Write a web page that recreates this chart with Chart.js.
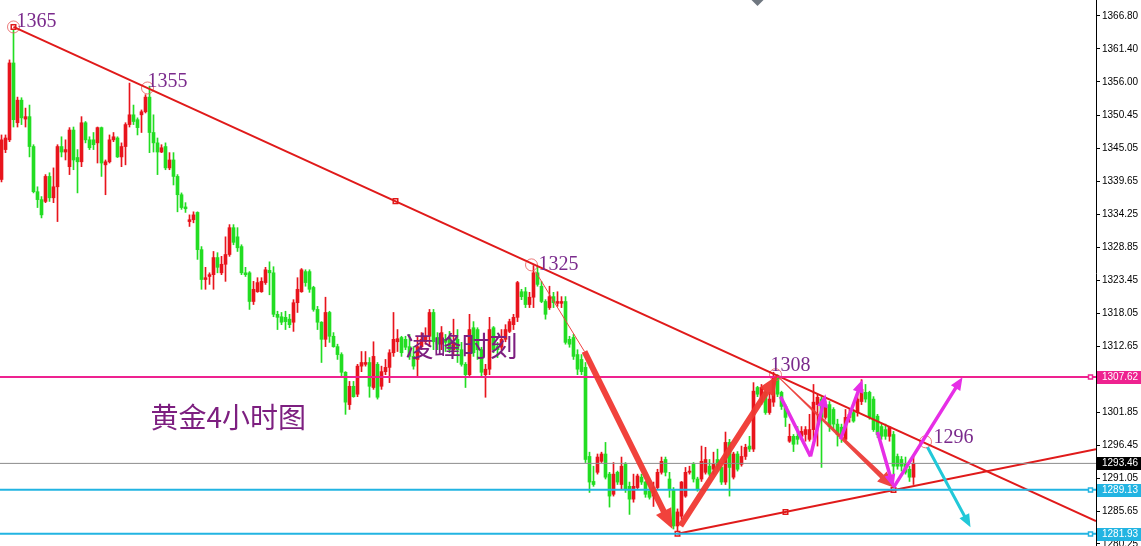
<!DOCTYPE html>
<html>
<head>
<meta charset="utf-8">
<title>黄金4小时图</title>
<script src="https://cdn.jsdelivr.net/npm/chart.js@4.4.1/dist/chart.umd.min.js"></script>
<style>
  html, body { margin: 0; padding: 0; background: #fff; overflow: hidden; }
  canvas { display: block; }
</style>
</head>
<body>
<canvas id="gold" width="1141" height="546"></canvas>
<script>
// 4h gold candles (one per bar, left to right)
const opens = [
  1340.0,1344.9,1346.5,1359.1,1349.3,1353.0,1349.9,1350.3,1345.4,1338.0,
  1336.7,1336.4,1340.5,1337.0,1338.8,1345.4,1344.5,1342.1,1348.1,1343.6,
  1342.9,1349.3,1346.5,1346.5,1346.0,1348.5,1342.4,1342.9,1346.5,1346.8,
  1343.7,1345.4,1349.0,1350.6,1349.8,1350.6,1351.1,1353.5,1347.7,1346.0,
  1344.5,1345.4,1341.9,1343.2,1340.5,1337.5,1335.5,1333.1,1333.4,1334.6,
  1328.5,1323.6,1324.1,1324.4,1327.2,1324.7,1326.1,1327.7,1332.1,1330.6,
  1329.0,1324.7,1324.7,1320.0,1321.6,1321.6,1323.1,1325.1,1324.7,1317.9,
  1317.5,1317.4,1317.1,1316.6,1319.8,1321.6,1324.9,1324.9,1322.3,1318.7,
  1316.6,1313.8,1318.2,1314.3,1312.6,1311.3,1308.4,1303.1,1306.1,1304.8,
  1309.4,1309.7,1310.0,1305.9,1309.7,1306.1,1308.5,1309.2,1311.6,1313.4,
  1314.1,1313.8,1312.6,1311.0,1310.5,1312.6,1313.4,1314.3,1318.2,1314.1,
  1313.0,1313.8,1314.1,1312.1,1313.8,1312.1,1309.7,1308.0,1315.7,1315.4,
  1312.1,1308.0,1308.9,1315.7,1312.6,1312.5,1313.8,1315.1,1316.2,1317.4,
  1321.6,1321.6,1319.5,1320.7,1324.7,1322.5,1320.0,1319.0,1320.8,1319.7,
  1319.7,1320.0,1313.8,1314.1,1311.3,1310.5,1309.2,1294.6,1290.5,1292.0,
  1293.8,1295.0,1291.7,1288.4,1292.0,1290.0,1293.3,1289.7,1287.6,1289.5,
  1291.2,1290.4,1288.9,1288.1,1289.5,1292.0,1294.1,1290.9,1289.2,1283.2,
  1284.8,1288.1,1292.0,1293.3,1290.9,1290.9,1292.0,1293.0,1292.5,1294.1,
  1292.8,1290.4,1296.9,1291.2,1295.0,1293.3,1294.6,1296.3,1295.8,1305.9,
  1303.5,1305.1,1301.8,1303.5,1307.6,1305.1,1302.8,1297.1,1297.9,1297.9,
  1297.9,1298.2,1297.4,1299.0,1303.1,1304.0,1301.0,1303.1,1302.3,1299.9,
  1299.4,1297.4,1301.0,1301.8,1301.8,1303.6,1305.1,1305.1,1304.0,1301.2,
  1299.5,1299.0,1297.9,1298.2,1294.6,1294.1,1293.3,1292.5,1291.2
];
const highs = [
  1347.3,1347.3,1359.6,1365.3,1353.5,1353.4,1351.7,1352.2,1345.7,1338.8,
  1337.2,1340.8,1341.1,1341.9,1345.7,1347.0,1346.5,1348.5,1348.6,1344.9,
  1350.3,1349.5,1347.0,1347.7,1348.6,1348.6,1343.2,1347.3,1347.7,1347.0,
  1346.0,1349.3,1355.8,1352.2,1350.1,1351.4,1353.9,1355.3,1350.6,1346.8,
  1345.7,1346.0,1344.4,1344.4,1340.8,1337.8,1336.2,1334.2,1334.7,1334.7,
  1329.0,1325.6,1324.7,1328.2,1328.0,1327.4,1330.6,1332.6,1332.6,1332.1,
  1329.3,1325.6,1324.9,1323.3,1323.9,1323.9,1325.6,1326.5,1325.7,1318.4,
  1318.2,1318.4,1317.9,1320.3,1323.9,1325.4,1325.2,1325.2,1322.5,1319.2,
  1316.7,1320.7,1318.4,1314.9,1313.0,1311.6,1308.5,1306.9,1306.9,1309.7,
  1311.8,1311.8,1310.8,1313.4,1310.0,1309.4,1310.5,1312.1,1318.2,1315.4,
  1314.3,1314.3,1314.6,1312.6,1314.3,1314.9,1315.7,1318.7,1318.7,1314.9,
  1315.9,1314.6,1315.1,1317.1,1315.4,1313.3,1310.0,1317.9,1316.7,1315.7,
  1312.5,1309.7,1317.4,1315.9,1313.3,1315.4,1316.2,1317.1,1317.9,1323.3,
  1322.0,1322.3,1321.5,1325.9,1325.7,1323.3,1320.3,1322.5,1321.5,1321.6,
  1320.8,1320.8,1314.3,1314.6,1312.1,1311.3,1310.0,1295.3,1293.0,1295.0,
  1295.3,1296.9,1292.0,1293.6,1292.2,1294.5,1293.6,1290.4,1291.7,1291.7,
  1291.7,1290.5,1289.5,1290.4,1292.5,1294.5,1294.5,1292.0,1289.5,1286.0,
  1290.5,1292.8,1293.0,1293.6,1291.2,1296.3,1296.1,1294.1,1295.3,1295.8,
  1293.0,1298.6,1297.4,1295.3,1295.4,1296.3,1296.6,1297.9,1306.7,1306.1,
  1306.4,1305.3,1305.1,1308.4,1308.0,1305.3,1303.1,1299.9,1298.2,1299.5,
  1299.5,1299.5,1301.5,1306.4,1304.8,1304.4,1303.6,1303.6,1302.6,1300.7,
  1299.9,1302.3,1302.3,1302.3,1304.8,1307.2,1306.4,1305.3,1304.4,1301.5,
  1299.9,1299.9,1299.5,1298.7,1295.0,1294.6,1294.5,1293.0,1294.6
];
const lows = [
  1339.6,1344.4,1346.2,1348.6,1348.6,1349.0,1348.6,1343.7,1337.8,1335.4,
  1333.7,1336.2,1336.4,1336.2,1333.1,1343.7,1343.2,1340.8,1341.6,1337.8,
  1342.1,1346.0,1344.9,1344.9,1342.7,1340.5,1337.5,1342.7,1346.2,1343.6,
  1342.1,1342.4,1348.6,1349.0,1347.3,1347.7,1350.9,1344.4,1344.5,1340.8,
  1344.4,1341.6,1341.6,1339.1,1334.7,1335.1,1334.6,1332.3,1332.9,1326.9,
  1322.0,1322.0,1322.8,1322.0,1324.7,1324.4,1323.3,1327.4,1329.3,1328.2,
  1324.4,1324.1,1318.7,1319.5,1321.5,1321.5,1322.8,1321.1,1317.5,1315.4,
  1316.2,1315.4,1315.7,1315.1,1318.2,1321.5,1322.5,1321.5,1318.4,1315.4,
  1310.0,1312.6,1313.3,1312.5,1310.5,1307.7,1301.5,1302.3,1304.3,1304.4,
  1308.5,1309.4,1304.3,1305.6,1304.0,1305.6,1308.0,1306.7,1311.0,1311.8,
  1311.0,1312.1,1310.5,1308.9,1307.7,1312.1,1313.0,1312.6,1312.1,1312.1,
  1312.1,1311.8,1311.6,1311.3,1310.0,1309.4,1305.9,1307.7,1311.0,1310.5,
  1307.7,1304.3,1308.0,1311.6,1310.8,1312.1,1313.4,1314.9,1315.4,1316.7,
  1320.3,1319.0,1319.0,1319.0,1322.5,1319.8,1317.1,1318.7,1319.0,1319.2,
  1319.0,1313.0,1312.5,1310.5,1308.0,1308.0,1293.6,1288.7,1289.7,1291.7,
  1293.6,1290.9,1286.3,1288.1,1290.0,1289.2,1288.7,1285.1,1287.1,1289.2,
  1290.0,1287.9,1287.6,1286.4,1289.2,1291.7,1291.4,1287.9,1282.7,1281.93,
  1284.3,1287.9,1291.7,1290.4,1288.9,1290.5,1291.7,1291.4,1291.7,1292.5,
  1290.0,1290.0,1288.1,1290.9,1292.2,1293.0,1294.1,1295.4,1295.4,1304.4,
  1303.1,1301.5,1301.5,1302.8,1304.4,1302.3,1299.5,1296.9,1295.4,1296.6,
  1297.4,1297.1,1297.1,1297.4,1296.3,1292.8,1300.7,1298.7,1299.0,1296.3,
  1296.9,1297.1,1300.2,1300.2,1301.2,1303.1,1303.5,1300.7,1298.7,1297.7,
  1297.4,1297.4,1297.1,1291.7,1292.5,1292.2,1291.7,1290.5,1290.0
];
const closes = [
  1346.5,1346.8,1359.1,1349.8,1353.0,1350.1,1350.3,1345.4,1338.0,1336.7,
  1334.2,1340.5,1337.0,1338.8,1345.4,1344.5,1344.9,1348.1,1343.2,1342.9,
  1349.3,1346.5,1345.2,1345.7,1348.5,1342.7,1342.9,1346.5,1347.0,1343.7,
  1345.4,1349.0,1350.6,1349.5,1348.5,1351.1,1353.5,1347.7,1346.0,1344.5,
  1345.2,1341.9,1343.2,1340.5,1337.5,1335.4,1335.2,1333.4,1334.2,1328.5,
  1323.6,1323.9,1324.4,1327.2,1325.6,1326.1,1327.7,1332.1,1329.7,1328.8,
  1324.7,1324.4,1320.0,1322.0,1323.1,1323.3,1325.2,1324.7,1317.9,1317.4,
  1316.6,1316.7,1316.2,1319.8,1322.0,1325.2,1323.1,1322.0,1318.7,1316.6,
  1313.8,1318.2,1314.3,1312.6,1311.3,1308.4,1303.5,1306.1,1304.4,1309.4,
  1310.0,1310.0,1306.1,1311.0,1304.3,1308.5,1309.2,1311.6,1313.8,1313.9,
  1311.6,1312.5,1311.0,1309.4,1312.6,1313.8,1314.3,1318.2,1313.4,1313.0,
  1314.9,1313.3,1312.1,1313.3,1312.1,1309.7,1308.0,1315.4,1311.6,1312.1,
  1308.4,1308.9,1315.4,1312.1,1312.1,1313.8,1315.4,1316.7,1317.4,1323.1,
  1320.8,1319.5,1320.7,1324.7,1322.8,1320.0,1317.9,1320.8,1319.8,1320.0,
  1320.0,1313.3,1313.0,1311.0,1308.9,1308.5,1294.1,1290.4,1290.0,1294.5,
  1295.0,1291.2,1288.1,1291.7,1290.4,1293.0,1289.2,1287.6,1289.7,1291.4,
  1290.4,1288.4,1287.9,1289.5,1292.0,1293.8,1292.0,1289.2,1283.2,1285.5,
  1290.4,1292.0,1292.2,1290.9,1289.2,1293.8,1294.1,1291.7,1293.3,1293.0,
  1290.4,1296.9,1292.8,1295.0,1292.5,1294.6,1296.1,1295.8,1305.3,1304.8,
  1305.9,1301.8,1304.0,1307.6,1304.8,1302.8,1301.0,1297.9,1296.6,1297.4,
  1298.7,1299.0,1299.0,1303.5,1304.3,1301.0,1303.1,1299.5,1299.9,1298.2,
  1298.2,1301.0,1301.5,1300.4,1304.0,1305.6,1304.0,1301.0,1299.0,1298.2,
  1297.9,1297.9,1299.4,1293.0,1293.0,1293.0,1292.0,1291.2,1293.46
];

// right price axis
const priceTicks = [1366.80,1361.40,1356.00,1350.45,1345.05,1339.65,1334.25,1328.85,
  1323.45,1318.05,1312.65,1307.25,1301.85,1296.45,1291.05,1285.65,1280.25];
const resistanceLevel = 1307.62;
const lastPrice = 1293.46;
const supportLevels = [1289.13, 1281.93];

// trend lines [bar index, price]
const downTrend = [[3, 1365.0], [273.625, 1284.0]];
const upTrend = [[169, 1281.93], [273.625, 1295.8]];
const trendMarks = [[3, 1365.0], [98.5, 1336.45], [169, 1281.93], [196, 1285.5], [223, 1289.1]];

// labelled swing points
const pivotIdx = [3, 36.5, 132.5, 193.5, 231];
const pivotPrice = [1365.0, 1355.0, 1326.0, 1308.0, 1297.0];
const pivotText = ['1365', '1355', '1325', '1308', '1296'];

// drawn arrows [bar index, price]
const leadIn = [[133.5, 1324.9], [145.75, 1311.8]];
const bigArrows = [
  [[145.75, 1311.8], [167.75, 1282.7]],
  [[169.75, 1283.2], [194.0, 1307.9]]
];
const taperArrow = [[194.25, 1307.6], [223.0, 1289.5]];
const pinkLegs = [
  [[194.75, 1304.4], [202.25, 1294.6], false],
  [[202.25, 1294.6], [206.0, 1304.8], true],
  [[209.75, 1297.4], [215.25, 1307.2], true],
  [[219.0, 1298.6], [223.0, 1289.5], true],
  [[223.0, 1289.5], [240.25, 1307.6], true]
];
const cyanArrow = [[231.5, 1296.1], [242.25, 1283.0]];

const X_MIN = -0.375, X_MAX = 273.625;
const RED = '#e8141c', GREEN = '#22dd22', PURPLE = '#7a2a8c';
const PINK = '#ee2290', CYAN = '#22b4e2', TREND = '#e01a1a';

const idx = opens.map((_, i) => i);
const candleColor = idx.map(i => closes[i] >= opens[i] ? RED : GREEN);

function hLine(v, color, w) {
  return {
    type: 'line', data: [{x: X_MIN, y: v}, {x: X_MAX, y: v}],
    borderColor: color, borderWidth: w, pointRadius: 0, order: 0
  };
}
function seg(pts, color, w) {
  return {
    type: 'line', data: pts.map(p => ({x: p[0], y: p[1]})),
    borderColor: color, borderWidth: w, pointRadius: 0, order: 0
  };
}

function arrow(ctx, a, b, w0, w1, headLen, headW, color) {
  const dx = b[0] - a[0], dy = b[1] - a[1], len = Math.hypot(dx, dy);
  const ux = dx / len, uy = dy / len, nx = -uy, ny = ux;
  const bx = b[0] - ux * headLen, by = b[1] - uy * headLen;
  ctx.fillStyle = color;
  ctx.beginPath();
  ctx.moveTo(a[0] + nx * w0 / 2, a[1] + ny * w0 / 2);
  ctx.lineTo(bx + nx * w1 / 2, by + ny * w1 / 2);
  ctx.lineTo(bx + nx * headW / 2, by + ny * headW / 2);
  ctx.lineTo(b[0], b[1]);
  ctx.lineTo(bx - nx * headW / 2, by - ny * headW / 2);
  ctx.lineTo(bx - nx * w1 / 2, by - ny * w1 / 2);
  ctx.lineTo(a[0] - nx * w0 / 2, a[1] - ny * w0 / 2);
  ctx.closePath();
  ctx.fill();
}

const overlay = {
  id: 'overlay',
  afterDatasetsDraw(chart) {
    const {ctx, scales: {x, y}} = chart;
    const P = p => [x.getPixelForValue(p[0]), y.getPixelForValue(p[1])];
    ctx.save();

    // thin line from 1325 then the big red arrows
    ctx.strokeStyle = '#f04040';
    ctx.lineWidth = 1;
    ctx.beginPath();
    ctx.moveTo(...P(leadIn[0]));
    ctx.lineTo(...P(leadIn[1]));
    ctx.stroke();
    bigArrows.forEach(a => arrow(ctx, P(a[0]), P(a[1]), 6, 6, 20, 17, 'rgba(240,56,50,0.95)'));
    arrow(ctx, P(taperArrow[0]), P(taperArrow[1]), 1, 5, 16, 14, 'rgba(236,60,56,0.95)');

    pinkLegs.forEach(l => arrow(ctx, P(l[0]), P(l[1]), 3.5, 3.5, l[2] ? 13 : 0, l[2] ? 11 : 0, '#e62ee6'));
    arrow(ctx, P(cyanArrow[0]), P(cyanArrow[1]), 3, 3, 13, 11, '#22c8d8');

    // small marker at top
    const tx = x.getPixelForValue(189);
    ctx.fillStyle = '#6f7780';
    ctx.beginPath();
    ctx.moveTo(tx - 6, 0); ctx.lineTo(tx + 6, 0); ctx.lineTo(tx, 6);
    ctx.closePath(); ctx.fill();

    // text
    ctx.textAlign = 'left';
    ctx.textBaseline = 'middle';
    ctx.fillStyle = PURPLE;
    ctx.font = '20px "Liberation Serif"';
    const textOffsets = [[0.75, 0.8], [0, 1.0], [1.75, 0], [-1.25, 1.5], [2, 0.7]];
    pivotText.forEach((t, i) => {
      const [px, py] = P([pivotIdx[i] + textOffsets[i][0], pivotPrice[i] + textOffsets[i][1]]);
      ctx.fillText(t, px, py);
    });
    ctx.fillStyle = '#7d1f80';
    ctx.font = '28px "Noto Sans CJK SC"';
    ctx.fillText('凌峰时刻', ...P([101, 1312.6]));
    ctx.fillText('黄金4小时图', ...P([37.25, 1301.0]));
    ctx.restore();
  },
  afterDraw(chart) {
    const {ctx, chartArea, scales: {y}} = chart;
    const tags = [
      [resistanceLevel, PINK, true],
      [lastPrice, '#000000', false],
      [supportLevels[0], CYAN, true],
      [supportLevels[1], CYAN, true]
    ];
    ctx.save();
    ctx.font = '10px "Liberation Sans"';
    ctx.textBaseline = 'middle';
    ctx.textAlign = 'left';
    tags.forEach(([v, bg, mark]) => {
      const py = Math.round(y.getPixelForValue(v));
      ctx.fillStyle = bg;
      ctx.fillRect(chartArea.right + 1, py - 6, 44, 13);
      ctx.fillStyle = '#fff';
      ctx.fillText(v.toFixed(2), chartArea.right + 6, py + 0.5);
      if (mark) {
        ctx.fillStyle = '#fff';
        ctx.strokeStyle = bg;
        ctx.lineWidth = 1.5;
        ctx.fillRect(chartArea.right - 7.5, py - 2, 4, 4);
        ctx.strokeRect(chartArea.right - 7.5, py - 2, 4, 4);
      }
    });
    ctx.restore();
  }
};

new Chart(document.getElementById('gold'), {
  type: 'bar',
  data: {
    datasets: [
      // wicks
      {
        type: 'bar', data: idx.map(i => ({x: i, y: [lows[i], highs[i]]})),
        backgroundColor: candleColor, barThickness: 1, grouped: false, order: 3
      },
      // bodies
      {
        type: 'bar', data: idx.map(i => ({x: i, y: [opens[i], closes[i]]})),
        backgroundColor: candleColor, barThickness: 3, grouped: false, minBarLength: 1, order: 2
      },
      hLine(lastPrice, '#8c8c8c', 1),
      hLine(resistanceLevel, PINK, 2),
      hLine(supportLevels[0], CYAN, 2),
      hLine(supportLevels[1], CYAN, 2),
      seg(downTrend, TREND, 2),
      seg(upTrend, TREND, 2),
      {
        type: 'line', data: pivotIdx.map((v, i) => ({x: v, y: pivotPrice[i]})),
        showLine: false, pointRadius: 6, pointBorderWidth: 1,
        pointBorderColor: 'rgba(232,96,96,0.85)', pointBackgroundColor: 'rgba(0,0,0,0)', order: 0
      },
      {
        type: 'line', data: trendMarks.map(p => ({x: p[0], y: p[1]})),
        showLine: false, pointStyle: 'rect', pointRadius: 3.2, pointBorderWidth: 1.5,
        pointBorderColor: TREND, pointBackgroundColor: '#fff', order: 0
      }
    ]
  },
  options: {
    responsive: false,
    animation: false,
    devicePixelRatio: 1,
    layout: { padding: 0, autoPadding: false },
    plugins: { legend: { display: false }, tooltip: { enabled: false } },
    scales: {
      x: { type: 'linear', min: X_MIN, max: X_MAX, offset: false, display: false },
      y: {
        position: 'right',
        min: 1279.92,
        max: 1369.42,
        afterBuildTicks: scale => { scale.ticks = priceTicks.map(v => ({value: v})); },
        afterFit: scale => {
          scale.width = 45;
          scale.paddingTop = 0;
          scale.paddingBottom = 0;
        },
        border: { display: true, color: '#000', width: 1 },
        grid: { drawOnChartArea: false, drawTicks: true, tickLength: 4, color: '#000' },
        ticks: {
          color: '#000', padding: 2, autoSkip: false,
          font: { family: 'Liberation Sans', size: 10 },
          callback: v => Number(v).toFixed(2)
        }
      }
    }
  },
  plugins: [overlay]
});
</script>
</body>
</html>
